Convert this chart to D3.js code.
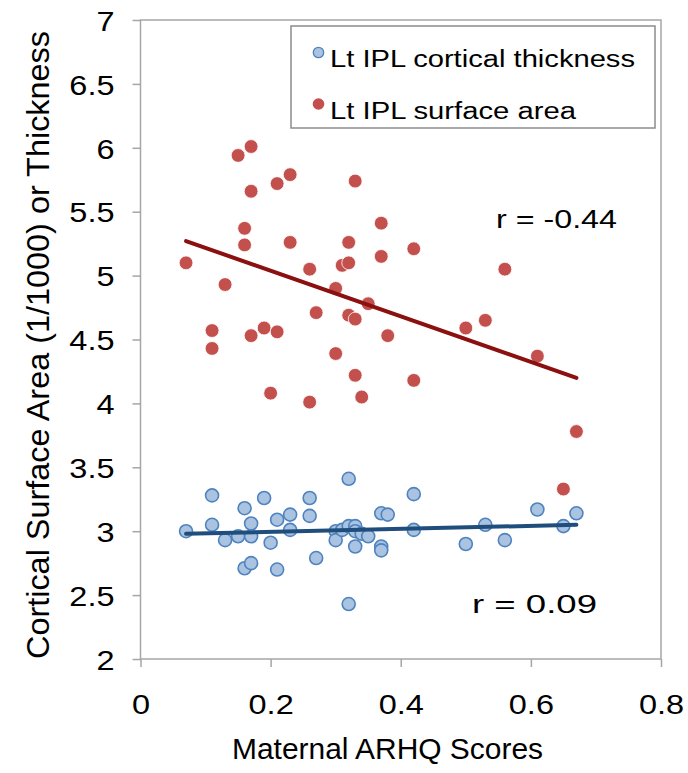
<!DOCTYPE html>
<html>
<head>
<meta charset="utf-8">
<script src="https://cdn.jsdelivr.net/npm/d3@7"></script>
<style>
  body { margin: 0; background: #fff; }
  svg text { font-family: "Liberation Sans", Arial, Helvetica, sans-serif; fill: #000; }
</style>
</head>
<body>
<div id="chart"></div>
<script>
// maternal ARHQ scores vs cortical measures
const thicknessX = [0.07, 0.11, 0.11, 0.13, 0.15, 0.16, 0.17, 0.17, 0.16, 0.17, 0.19, 0.21, 0.20, 0.21,
    0.23, 0.23, 0.26, 0.26, 0.27, 0.30, 0.30, 0.31, 0.32, 0.32, 0.33, 0.33, 0.34, 0.35, 0.33, 0.32,
    0.37, 0.38, 0.37, 0.37, 0.42, 0.42, 0.50, 0.53, 0.56, 0.61, 0.65, 0.67];
const thicknessY = [3.00, 3.28, 3.05, 2.93, 2.96, 3.18, 3.06, 2.96, 2.71, 2.75, 3.26, 3.09, 2.91, 2.70,
    3.13, 3.01, 3.26, 3.12, 2.79, 3.00, 2.93, 3.01, 3.41, 3.04, 3.04, 3.00, 2.98, 2.96, 2.88, 2.43,
    3.14, 3.13, 2.88, 2.85, 3.29, 3.01, 2.90, 3.05, 2.93, 3.17, 3.04, 3.14];

const areaX = [0.07, 0.11, 0.11, 0.13, 0.15, 0.16, 0.16, 0.17, 0.17, 0.17, 0.19, 0.20, 0.21, 0.21,
    0.23, 0.23, 0.26, 0.26, 0.27, 0.30, 0.30, 0.31, 0.32, 0.32, 0.32, 0.33, 0.33, 0.33, 0.34, 0.35,
    0.37, 0.37, 0.38, 0.42, 0.42, 0.50, 0.53, 0.56, 0.61, 0.65, 0.67];
const areaY = [5.10, 4.57, 4.43, 4.93, 5.94, 5.37, 5.24, 6.01, 5.66, 4.53, 4.59, 4.08, 5.72, 4.56,
    5.79, 5.26, 5.05, 4.01, 4.71, 4.90, 4.39, 5.08, 5.26, 5.10, 4.69, 5.74, 4.66, 4.22, 4.05, 4.78,
    5.41, 5.15, 4.53, 5.21, 4.18, 4.59, 4.65, 5.05, 4.37, 3.33, 3.78];

// fitted lines, end points
const thicknessFit = [[0.07, 2.98], [0.67, 3.05]];
const areaFit = [[0.07, 5.27], [0.67, 4.20]];

const xTicks = [0, 0.2, 0.4, 0.6, 0.8];
const yTicks = [2, 2.5, 3, 3.5, 4, 4.5, 5, 5.5, 6, 6.5, 7];

const seriesNames = ["Lt IPL cortical thickness", "Lt IPL surface area"];

const W = 688, H = 773;
const plot = {left: 140.5, right: 661, top: 20, bottom: 659};

const svg = d3.select("#chart").append("svg")
    .attr("width", W)
    .attr("height", H);

const x = d3.scaleLinear().domain([0, 0.8]).range([plot.left, plot.right]);
const y = d3.scaleLinear().domain([2, 7]).range([plot.bottom, plot.top]);

const frameColor = "#a6a6a6";

// plot frame
svg.append("rect")
    .attr("x", plot.left).attr("y", plot.top)
    .attr("width", plot.right - plot.left).attr("height", plot.bottom - plot.top)
    .attr("fill", "none")
    .attr("stroke", frameColor)
    .attr("stroke-width", 1.5);

// axes
const xAxis = svg.append("g")
    .attr("transform", `translate(0, ${plot.bottom})`)
    .call(d3.axisBottom(x).tickValues(xTicks).tickSize(8).tickPadding(27)
        .tickFormat(d => d === 0 ? "0" : d3.format(".1f")(d)));
const yAxis = svg.append("g")
    .attr("transform", `translate(${plot.left}, 0)`)
    .call(d3.axisLeft(y).tickValues(yTicks).tickSize(8).tickPadding(18)
        .tickFormat(d => d % 1 === 0 ? d3.format("d")(d) : d3.format(".1f")(d)));

[xAxis, yAxis].forEach(g => {
    g.select(".domain").remove();
    g.selectAll(".tick line").attr("stroke", frameColor).attr("stroke-width", 1.5);
    g.selectAll(".tick text")
        .style("font-size", "28.5px")
        .style("font-family", "Liberation Sans, Arial, sans-serif")
        .attr("fill", "#000")
        .attr("lengthAdjust", "spacingAndGlyphs")
        .attr("textLength", function () { return this.getComputedTextLength() * 1.14; });
});
yAxis.selectAll(".tick text").attr("dy", "0.36em");
xAxis.selectAll(".tick text").attr("dy", "0.71em");

// axis titles
svg.append("text")
    .attr("x", 232)
    .attr("y", 759)
    .attr("textLength", 311)
    .attr("lengthAdjust", "spacingAndGlyphs")
    .style("font-size", "29px")
    .text("Maternal ARHQ Scores");

svg.append("text")
    .attr("transform", `translate(49, 659) rotate(-90)`)
    .attr("textLength", 628)
    .attr("lengthAdjust", "spacingAndGlyphs")
    .style("font-size", "31px")
    .text("Cortical Surface Area (1/1000) or Thickness");

// fitted lines
const line = d3.line().x(d => x(d[0])).y(d => y(d[1]));

// thickness points
svg.append("g").selectAll("circle")
    .data(thicknessX.map((v, i) => [v, thicknessY[i]]))
    .join("circle")
    .attr("cx", d => x(d[0]))
    .attr("cy", d => y(d[1]))
    .attr("r", 6.5)
    .attr("fill", "#a9c3e0")
    .attr("stroke", "#4f83bf")
    .attr("stroke-width", 1.6);

// surface area points
svg.append("g").selectAll("circle")
    .data(areaX.map((v, i) => [v, areaY[i]]))
    .join("circle")
    .attr("cx", d => x(d[0]))
    .attr("cy", d => y(d[1]))
    .attr("r", 6.9)
    .attr("fill", "#c4504d")
    .attr("stroke", "#fff")
    .attr("stroke-width", 0.8);

svg.append("path")
    .attr("d", line(thicknessFit))
    .attr("fill", "none")
    .attr("stroke", "#1f4e7d")
    .attr("stroke-width", 4)
    .attr("stroke-linecap", "round");

svg.append("path")
    .attr("d", line(areaFit))
    .attr("fill", "none")
    .attr("stroke", "#8b1010")
    .attr("stroke-width", 4)
    .attr("stroke-linecap", "round");

// r labels
svg.append("text")
    .attr("x", 496).attr("y", 228)
    .attr("textLength", 121)
    .attr("lengthAdjust", "spacingAndGlyphs")
    .style("font-size", "25.5px")
    .text("r = -0.44");

svg.append("text")
    .attr("x", 472).attr("y", 613)
    .attr("textLength", 125)
    .attr("lengthAdjust", "spacingAndGlyphs")
    .style("font-size", "25.5px")
    .text("r = 0.09");

// legend
const legend = svg.append("g");
legend.append("rect")
    .attr("x", 291).attr("y", 26)
    .attr("width", 364).attr("height", 102)
    .attr("fill", "#fff")
    .attr("stroke", "#8c8c8c")
    .attr("stroke-width", 1.5);

const legendStyles = [
    {fill: "#a9c3e0", stroke: "#4f83bf", sw: 1.3, r: 5.2, len: 305},
    {fill: "#c4504d", stroke: "none", sw: 0, r: 5.8, len: 246}
];
seriesNames.forEach((name, i) => {
    legend.append("circle")
        .attr("cx", 318.5)
        .attr("cy", 52.5 + i * 51.5)
        .attr("r", legendStyles[i].r)
        .attr("fill", legendStyles[i].fill)
        .attr("stroke", legendStyles[i].stroke)
        .attr("stroke-width", legendStyles[i].sw);
    legend.append("text")
        .attr("x", 330)
        .attr("y", 67 + i * 51.5)
        .attr("textLength", legendStyles[i].len)
        .attr("lengthAdjust", "spacingAndGlyphs")
        .style("font-size", "23.5px")
        .text(name);
});
</script>
</body>
</html>
